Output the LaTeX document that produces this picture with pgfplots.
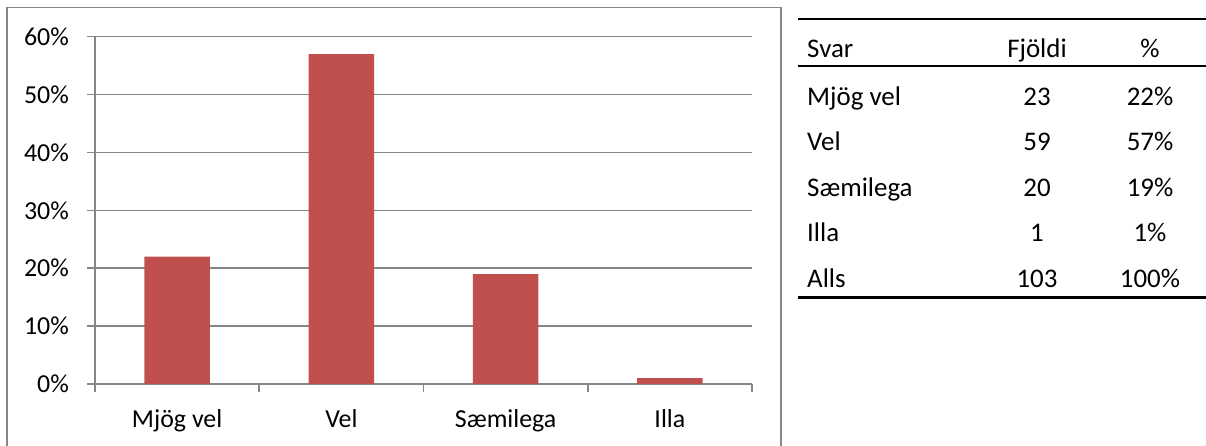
\documentclass[border=0pt]{standalone}
\usepackage{fontspec}
\setmainfont{Carlito}
\usepackage{pgfplots}
\pgfplotsset{compat=1.18}
\definecolor{barred}{HTML}{C0504D}
\definecolor{axgray}{HTML}{868686}
\begin{document}
\begin{tikzpicture}[x=1bp,y=1bp]
\useasboundingbox (0,0) rectangle (1206,446);
% chart frame
\draw[axgray, line width=1.6bp] (6.7,-5) -- (6.7,438.3) -- (781,438.3) -- (781,-5);
\begin{axis}[
  at={(95bp,62bp)}, anchor=south west,
  scale only axis, width=657bp, height=347.3bp,
  xmin=-0.5, xmax=3.5, ymin=0, ymax=60,
  axis x line*=bottom, axis y line*=left,
  axis line style={axgray, line width=1.6bp, -},
  xtick={0,1,2,3},
  xticklabels={Mjög vel, Vel, Sæmilega, Illa},
  minor xtick={-0.5,0.5,1.5,2.5,3.5},
  major x tick style={draw=none},
  minor x tick style={axgray, line width=1.6bp},
  minor tick length=8bp,
  ytick={0,10,20,30,40,50,60},
  yticklabels={0\%,10\%,20\%,30\%,40\%,50\%,60\%},
  y tick style={axgray, line width=1.6bp},
  major tick length=8bp,
  tick align=outside,
  ymajorgrids,
  grid style={axgray, line width=1.6bp},
  tick label style={font=\fontsize{26}{30}\selectfont},
  xticklabel style={anchor=base, yshift=-36bp, inner sep=0pt},
  yticklabel style={anchor=east, inner sep=0pt, xshift=-18bp},
  clip=false,
]
\addplot[ybar, bar width=0.4, fill=barred, draw=none, bar shift=0pt]
  coordinates {(0,22) (1,57) (2,19) (3,1)};
\end{axis}
% table
\draw[line width=2.6bp] (798,427) -- (1206,427);
\draw[line width=2bp] (798,380) -- (1206,380);
\draw[line width=2.6bp] (798,148.3) -- (1206,148.3);
\begin{scope}[every node/.style={font=\fontsize{27}{32}\selectfont, inner sep=0pt}]
\node[anchor=base west] at (807,388.7) {Svar};
\node[anchor=base] at (1037,388.7) {Fjöldi};
\node[anchor=base] at (1150,388.7) {\%};
\node[anchor=base west] at (807,340.7) {Mjög vel};
\node[anchor=base] at (1037,340.7) {23};
\node[anchor=base] at (1150,340.7) {22\%};
\node[anchor=base west] at (807,295) {Vel};
\node[anchor=base] at (1037,295) {59};
\node[anchor=base] at (1150,295) {57\%};
\node[anchor=base west] at (807,249.5) {Sæmilega};
\node[anchor=base] at (1037,249.5) {20};
\node[anchor=base] at (1150,249.5) {19\%};
\node[anchor=base west] at (807,204) {Illa};
\node[anchor=base] at (1037,204) {1};
\node[anchor=base] at (1150,204) {1\%};
\node[anchor=base west] at (807,158) {Alls};
\node[anchor=base] at (1037,158) {103};
\node[anchor=base] at (1150,158) {100\%};
\end{scope}
\end{tikzpicture}
\end{document}
